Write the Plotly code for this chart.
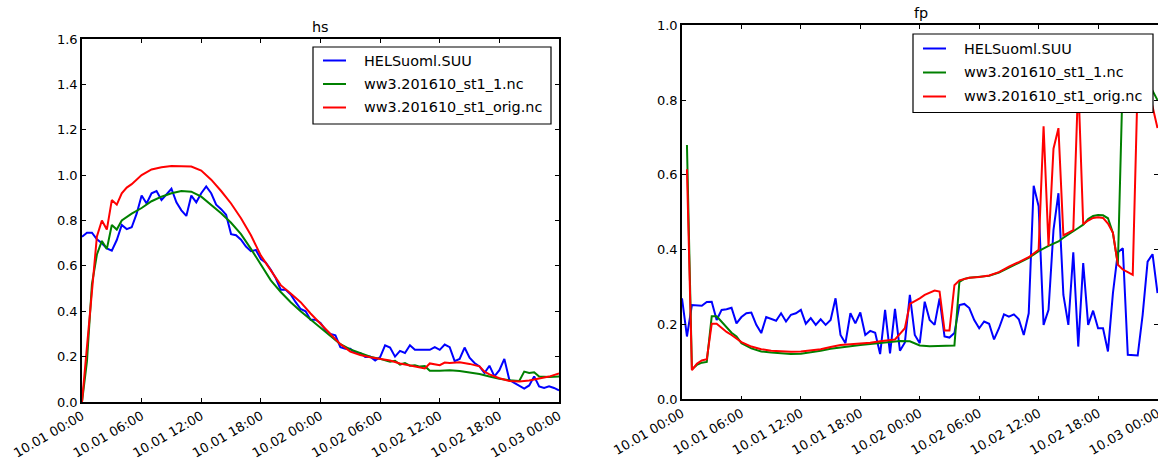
import pandas as pd
import plotly.graph_objects as go

# ---------------------------------------------------------------- data
start = pd.Timestamp("2016-10-01 00:00")

series_names = ["HELSuoml.SUU", "ww3.201610_st1_1.nc", "ww3.201610_st1_orig.nc"]
series_colors = ["#0000ff", "#008000", "#ff0000"]

tick_hours = [0, 6, 12, 18, 24, 30, 36, 42, 48]
tick_labels = ["10.01 00:00", "10.01 06:00", "10.01 12:00", "10.01 18:00",
               "10.02 00:00", "10.02 06:00", "10.02 12:00", "10.02 18:00",
               "10.03 00:00"]

# observations, every 30 minutes from 10.01 00:00
obs_step_hours = 0.5
hs_obs = [0.728, 0.746, 0.746, 0.717, 0.70, 0.677, 0.667, 0.714, 0.78, 0.762,
          0.77, 0.83, 0.91, 0.875, 0.92, 0.93, 0.89, 0.915, 0.94, 0.88,
          0.845, 0.82, 0.91, 0.88, 0.92, 0.95, 0.92, 0.87, 0.85, 0.825,
          0.74, 0.735, 0.715, 0.685, 0.665, 0.67, 0.63, 0.614, 0.583, 0.545,
          0.495, 0.495, 0.474, 0.44, 0.41, 0.40, 0.363, 0.363, 0.348, 0.318,
          0.30, 0.294, 0.242, 0.235, 0.235, 0.216, 0.216, 0.198, 0.20, 0.183,
          0.198, 0.25, 0.24, 0.20, 0.225, 0.216, 0.25, 0.23, 0.23, 0.23,
          0.23, 0.242, 0.23, 0.253, 0.242, 0.18, 0.19, 0.24, 0.195, 0.172,
          0.157, 0.128, 0.16, 0.113, 0.14, 0.19, 0.098, 0.084, 0.073, 0.059,
          0.073, 0.113, 0.069, 0.062, 0.069, 0.062, 0.051]
fp_obs = [0.27, 0.168, 0.252, 0.252, 0.25, 0.26, 0.261, 0.212, 0.239, 0.241,
          0.245, 0.203, 0.22, 0.23, 0.232, 0.199, 0.177, 0.22, 0.214, 0.21,
          0.23, 0.208, 0.226, 0.23, 0.239, 0.202, 0.217, 0.199, 0.214, 0.199,
          0.212, 0.27, 0.172, 0.15, 0.23, 0.203, 0.232, 0.172, 0.183, 0.178,
          0.121, 0.239, 0.123, 0.242, 0.13, 0.152, 0.279, 0.172, 0.15, 0.261,
          0.212, 0.199, 0.27, 0.168, 0.165, 0.177, 0.252, 0.255, 0.244, 0.212,
          0.19, 0.208, 0.202, 0.16, 0.19, 0.227, 0.221, 0.227, 0.214, 0.172,
          0.23, 0.571, 0.516, 0.199, 0.239, 0.453, 0.551, 0.279, 0.199, 0.393,
          0.141, 0.364, 0.199, 0.237, 0.19, 0.19, 0.128, 0.284, 0.393, 0.404,
          0.119, 0.119, 0.117, 0.226, 0.368, 0.388, 0.284]

# model output: hours since 10.01 00:00 and values
hs_st1_1_hours = [0, 0.5, 1, 1.5, 2, 2.5, 3, 3.5, 4, 5, 6, 7, 8, 9, 10, 11, 12,
                  13, 14, 15, 16, 17, 18, 19, 20, 21, 22, 23, 24, 25, 26, 27,
                  28, 29, 30, 31, 31.5, 32, 32.5, 33, 33.5, 34, 34.5, 35, 36,
                  37, 38, 39, 40, 41, 42, 43, 44, 44.5, 45, 45.5, 46, 47, 48]
hs_st1_1 = [0, 0.18, 0.52, 0.65, 0.71, 0.675, 0.78, 0.76, 0.80, 0.83, 0.855,
            0.885, 0.905, 0.92, 0.93, 0.927, 0.905, 0.87, 0.832, 0.79, 0.74,
            0.675, 0.605, 0.536, 0.485, 0.44, 0.40, 0.364, 0.33, 0.295, 0.255,
            0.232, 0.215, 0.2, 0.19, 0.178, 0.182, 0.165, 0.172, 0.16, 0.162,
            0.156, 0.158, 0.138, 0.138, 0.14, 0.137, 0.13, 0.123, 0.112,
            0.102, 0.096, 0.093, 0.134, 0.128, 0.131, 0.112, 0.11, 0.112]

hs_orig_hours = [0, 0.5, 1, 1.5, 2, 2.5, 3, 3.5, 4, 4.5, 5, 6, 7, 8, 9, 10, 11,
                 12, 13, 14, 15, 16, 17, 18, 19, 20, 21, 22, 23, 24, 25, 26,
                 27, 28, 29, 30, 31, 32, 33, 34, 34.5, 35, 35.5, 36, 36.5, 37,
                 38, 39, 40, 40.5, 41, 42, 43, 44, 45, 46, 47, 48]
hs_orig = [0, 0.24, 0.50, 0.73, 0.80, 0.76, 0.89, 0.87, 0.92, 0.945, 0.96,
           1.0, 1.025, 1.035, 1.04, 1.04, 1.038, 1.02, 0.98, 0.93, 0.875,
           0.81, 0.735, 0.645, 0.58, 0.515, 0.478, 0.44, 0.39, 0.345, 0.30,
           0.255, 0.222, 0.207, 0.197, 0.19, 0.183, 0.17, 0.16, 0.15, 0.148,
           0.17, 0.165, 0.162, 0.174, 0.172, 0.175, 0.168, 0.157, 0.134,
           0.122, 0.105, 0.093, 0.09, 0.095, 0.104, 0.112, 0.126]

fp_st1_1_hours = [0.5, 1, 1.5, 2, 2.5, 3, 3.5, 4, 4.5, 5, 5.5, 6, 7, 8, 9, 10,
                  11, 12, 13, 14, 15, 16, 17, 18, 19, 20, 21, 22, 23, 23.5,
                  24, 25, 26, 27, 27.5, 28, 28.5, 29, 30, 31, 32, 33, 34, 35,
                  36, 37, 38, 38.5, 39, 39.5, 40, 40.5, 41, 41.5, 42, 42.5, 43,
                  43.5, 44, 44.5, 45, 46, 47, 47.5, 48]
fp_st1_1 = [0.68, 0.08, 0.092, 0.098, 0.10, 0.222, 0.222, 0.207, 0.192, 0.178,
            0.168, 0.15, 0.136, 0.128, 0.125, 0.122, 0.121, 0.122, 0.125,
            0.13, 0.135, 0.139, 0.142, 0.145, 0.148, 0.151, 0.154, 0.156,
            0.155, 0.15, 0.144, 0.142, 0.143, 0.143, 0.144, 0.314, 0.322,
            0.325, 0.327, 0.33, 0.339, 0.353, 0.365, 0.378, 0.396, 0.41,
            0.422, 0.432, 0.44, 0.45, 0.458, 0.467, 0.482, 0.49, 0.493, 0.492,
            0.484, 0.445, 0.36, 0.87, 0.88, 0.87, 0.845, 0.825, 0.80]

fp_orig_hours = [0.5, 1, 1.5, 2, 2.5, 3, 3.5, 4, 4.5, 5, 5.5, 6, 7, 8, 9, 10,
                 11, 12, 13, 14, 15, 16, 17, 18, 19, 20, 21, 21.5, 22, 22.5,
                 23, 23.5, 24, 24.5, 25, 25.5, 26, 26.5, 27, 27.5, 28, 28.5,
                 29, 30, 31, 32, 33, 34, 35, 35.5, 36, 36.5, 37, 37.5, 38,
                 38.5, 39, 39.5, 40, 40.5, 41, 41.5, 42, 42.5, 43, 43.5, 44,
                 44.5, 45, 45.5, 46, 46.5, 47, 47.5, 48]
fp_orig = [0.615, 0.078, 0.095, 0.104, 0.107, 0.202, 0.202, 0.19, 0.18, 0.172,
           0.163, 0.153, 0.141, 0.134, 0.13, 0.128, 0.127, 0.128, 0.13, 0.134,
           0.14, 0.145, 0.147, 0.148, 0.151, 0.155, 0.158, 0.16, 0.175, 0.19,
           0.255, 0.262, 0.27, 0.279, 0.286, 0.291, 0.288, 0.184, 0.184,
           0.305, 0.318, 0.322, 0.325, 0.327, 0.331, 0.34, 0.355, 0.367,
           0.38, 0.39, 0.40, 0.73, 0.41, 0.67, 0.725, 0.438, 0.445, 0.452,
           0.85, 0.468, 0.478, 0.485, 0.487, 0.485, 0.47, 0.445, 0.36, 0.347,
           0.34, 0.333, 0.85, 0.87, 0.84, 0.785, 0.725]

# ---------------------------------------------------------------- helpers
W, H = 1158, 461
FONT = "DejaVu Sans"
LINE_W = 2.0


def times(hours):
    return [start + pd.Timedelta(hours=h) for h in hours]


def px(x):
    return x / W


def py(y):
    return (H - y) / H


obs_hours_hs = [i * obs_step_hours for i in range(len(hs_obs))]
obs_hours_fp = [i * obs_step_hours for i in range(len(fp_obs))]

panels = [
    dict(name="hs", xa="x", ya="y",
         series=[(obs_hours_hs, hs_obs), (hs_st1_1_hours, hs_st1_1),
                 (hs_orig_hours, hs_orig)],
         box=(82, 559, 39, 402), xspan=48.0, yrange=[0, 1.6],
         title_x=320.5,
         legend=(313, 551, 47, 124), rows=(60.5, 84, 107.5)),
    dict(name="fp", xa="x2", ya="y2",
         series=[(obs_hours_fp, fp_obs), (fp_st1_1_hours, fp_st1_1),
                 (fp_orig_hours, fp_orig)],
         # the right-hand frame runs to the edge of the figure
         box=(682, 1158, 25.3, 399.3), xspan=48.05, yrange=[0, 1.0],
         title_x=920.5,
         legend=(913, 1153, 34, 112.5), rows=(48.5, 72.5, 96.5)),
]

fig = go.Figure()
shapes, annotations = [], []

for p in panels:
    for (hrs, vals), name, color in zip(p["series"], series_names, series_colors):
        fig.add_trace(go.Scatter(
            x=times(hrs), y=vals, mode="lines", name=name,
            line=dict(color=color, width=LINE_W),
            xaxis=p["xa"], yaxis=p["ya"], showlegend=False))

    x0, x1, y0, y1 = p["box"]
    axis_common = dict(showline=True, linecolor="black", linewidth=1.5,
                       mirror="ticks", ticks="inside", ticklen=4,
                       tickwidth=1, tickcolor="black", showgrid=False,
                       zeroline=False, automargin=False,
                       ticklabeloverflow="allow",
                       tickfont=dict(family=FONT, size=13, color="black"))
    xkey = "xaxis" if p["xa"] == "x" else "xaxis2"
    ykey = "yaxis" if p["ya"] == "y" else "yaxis2"
    fig.update_layout({
        xkey: dict(axis_common, domain=[px(x0), px(x1)], type="date",
                   anchor=p["ya"],
                   range=[start, start + pd.Timedelta(hours=p["xspan"])],
                   tickvals=times(tick_hours), ticktext=tick_labels,
                   tickangle=-30),
        ykey: dict(axis_common, domain=[py(y1), py(y0)], anchor=p["xa"],
                   range=p["yrange"], dtick=0.2, tick0=0, tickformat=".1f"),
    })

    # panel title
    annotations.append(dict(
        text=p["name"], xref="paper", yref="paper",
        x=px(p["title_x"]), y=py(y0 - 2), xanchor="center", yanchor="bottom",
        showarrow=False, font=dict(family=FONT, size=14.4, color="black")))

    # legend box with line samples and labels
    lx0, lx1, ly0, ly1 = p["legend"]
    shapes.append(dict(type="rect", xref="paper", yref="paper",
                       x0=px(lx0), x1=px(lx1), y0=py(ly1), y1=py(ly0),
                       line=dict(color="black", width=1.2), fillcolor="white",
                       layer="above"))
    for row_y, name, color in zip(p["rows"], series_names, series_colors):
        shapes.append(dict(type="line", xref="paper", yref="paper",
                           x0=px(lx0 + 10), x1=px(lx0 + 33),
                           y0=py(row_y), y1=py(row_y),
                           line=dict(color=color, width=LINE_W), layer="above"))
        annotations.append(dict(
            text=name, xref="paper", yref="paper", x=px(lx0 + 49),
            y=py(row_y), xanchor="left", yanchor="middle", showarrow=False,
            font=dict(family=FONT, size=14.4, color="black")))

fig.update_layout(
    template="none",
    width=W, height=H,
    margin=dict(l=0, r=0, t=0, b=0, pad=0),
    paper_bgcolor="white", plot_bgcolor="white",
    showlegend=False,
    shapes=shapes, annotations=annotations,
    font=dict(family=FONT, size=12, color="black"),
)

fig.write_html("out.html")
